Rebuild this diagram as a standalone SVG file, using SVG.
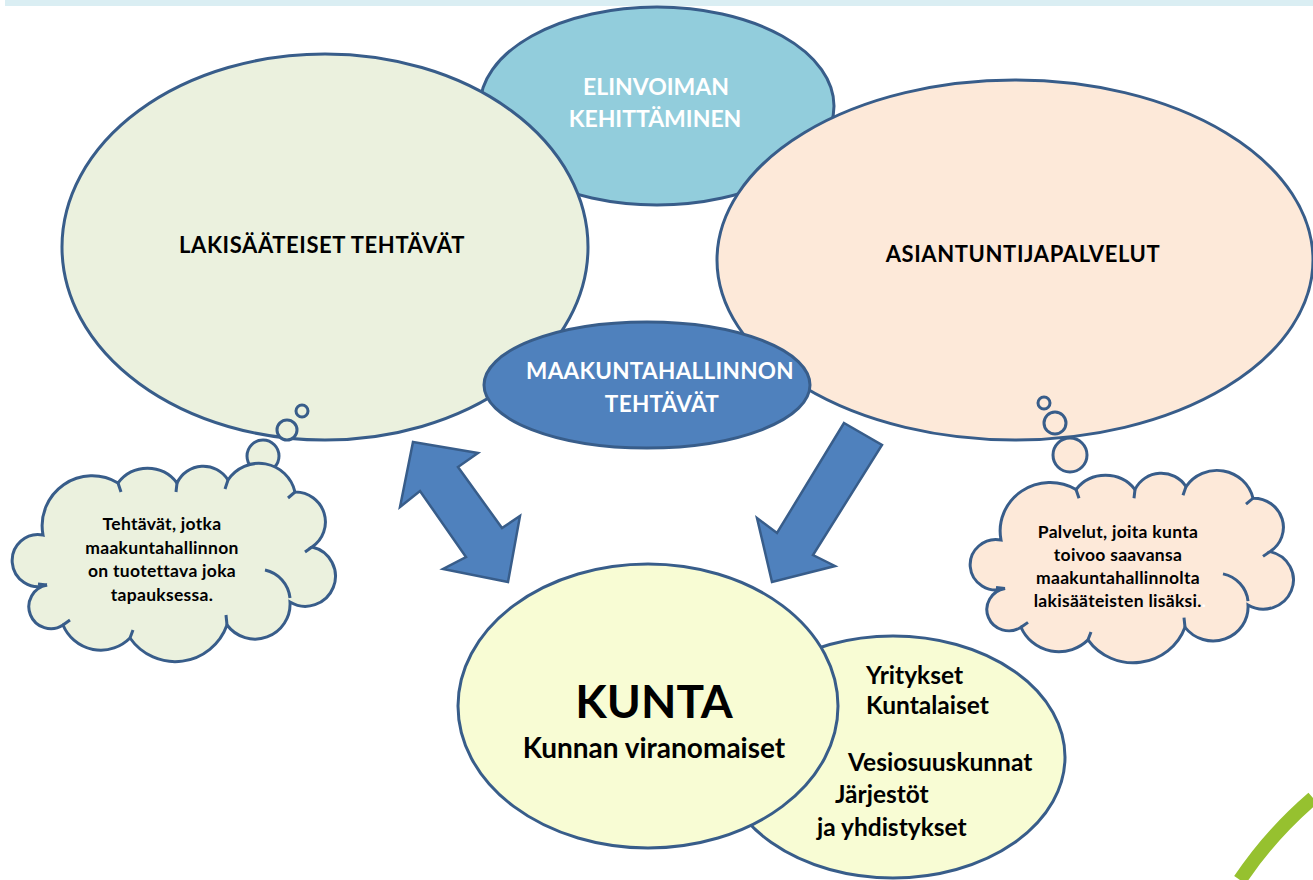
<svg xmlns="http://www.w3.org/2000/svg" xmlns:xlink="http://www.w3.org/1999/xlink" width="1313" height="880" viewBox="0 0 1313 880">
<style>
.sh{stroke:#385d8a;stroke-width:3}
.t{font-family:Lato,"Liberation Sans",sans-serif;font-weight:bold;text-anchor:middle}
.w{fill:#ffffff}
.k{fill:#000000}
.c{font-size:17.5px;letter-spacing:0.3px}
.l{font-family:Lato,"Liberation Sans",sans-serif;font-weight:bold;fill:#000;font-size:24.5px}
.tick{fill:none;stroke:#385d8a;stroke-width:3}
.arr{fill:#4f81bd;stroke:#385d8a;stroke-width:2.5;stroke-linejoin:miter}
</style>
<defs>
<path id="cloud" d="M47,585 A26,26 0 1 1 43,535 A50,50 0 0 1 118,483 A37,37 0 0 1 177,483 A29,29 0 0 1 228,480 A37,37 0 0 1 295,492 A30,30 0 0 1 312,547 A30,30 0 1 1 290,602 A35,35 0 0 1 227,625 A55,55 0 0 1 130,638 A41,41 0 0 1 63,625 A22,22 0 1 1 47,585 Z"/>
<path id="ticks" d="M118,483 L121,492 M177,483 L176,492 M228,480 L225,489 M295,492 L288,498 M312,547 L305,552 M265,570 A32,32 0 0 1 290,598 M227,625 L226,615 M130,638 L133,630 M63,625 L70,620 M47,585 L38,584"/>
</defs>
<rect x="5" y="0" width="1308" height="6" fill="#daeef3"/>
<path d="M1240,880 Q1270,835 1313,798" fill="none" stroke="#96c12f" stroke-width="14"/>

<g id="elinvoima">
<ellipse cx="657" cy="106" rx="177" ry="99" fill="#92cddc" class="sh"/>
<text class="t w" x="656" y="95" font-size="23">ELINVOIMAN</text>
<text class="t w" x="655" y="127" font-size="23">KEHITTÄMINEN</text>
</g>
<g id="lakisaateiset">
<ellipse cx="325" cy="247" rx="263" ry="193" fill="#ebf1de" class="sh"/>
<text class="t k" x="322" y="253" font-size="22" letter-spacing="0.6">LAKISÄÄTEISET TEHTÄVÄT</text>
</g>
<g id="asiantuntija">
<ellipse cx="1015" cy="260" rx="298" ry="180" fill="#fde9d9" class="sh"/>
<text class="t k" x="1023" y="262" font-size="22" letter-spacing="0.6">ASIANTUNTIJAPALVELUT</text>
</g>
<g id="maakunta">
<ellipse cx="647" cy="385" rx="163" ry="63" fill="#4f81bd" class="sh"/>
<text class="t w" x="660" y="379" font-size="22.5" letter-spacing="0.3">MAAKUNTAHALLINNON</text>
<text class="t w" x="662" y="412" font-size="22.5" letter-spacing="0.3">TEHTÄVÄT</text>
</g>

<g id="cloud-left">
<circle cx="302" cy="411" r="6" fill="#ebf1de" class="sh"/>
<circle cx="287" cy="430" r="10" fill="#ebf1de" class="sh"/>
<circle cx="263" cy="456" r="16" fill="#ebf1de" class="sh"/>
<use xlink:href="#cloud" href="#cloud" fill="#ebf1de" class="sh"/>
<use xlink:href="#ticks" href="#ticks" class="tick"/>
<text class="t k c" x="162" y="530">Tehtävät, jotka</text>
<text class="t k c" x="162" y="554">maakuntahallinnon</text>
<text class="t k c" x="162" y="577">on tuotettava joka</text>
<text class="t k c" x="162" y="601">tapauksessa.</text>
</g>

<g id="cloud-right">
<circle cx="1044" cy="403" r="6" fill="#fde9d9" class="sh"/>
<circle cx="1055" cy="423" r="11" fill="#fde9d9" class="sh"/>
<circle cx="1070" cy="455" r="17" fill="#fde9d9" class="sh"/>
<g transform="translate(958,21) scale(1,0.97)">
<use xlink:href="#cloud" href="#cloud" fill="#fde9d9" class="sh"/>
<use xlink:href="#ticks" href="#ticks" class="tick"/>
</g>
<text class="t k c" x="1118" y="538">Palvelut, joita kunta</text>
<text class="t k c" x="1118" y="561">toivoo saavansa</text>
<text class="t k c" x="1118" y="584">maakuntahallinnolta</text>
<text class="t k c" x="1120" y="607">lakisääteisten lisäksi.<tspan fill="#ffffff">.</tspan></text>
</g>

<g id="connectors">
<polygon class="arr" points="413,442 478,453 458,467 502,528 520,516 508,582 443,569 466,557 420,491 400,507"/>
<polygon class="arr" points="844,423 882,445 813,555 835,566 772,582 757,518 777,533"/>
</g>

<g id="muut">
<ellipse cx="893" cy="757" rx="172" ry="121" fill="#f8fcd4" class="sh"/>
<text class="l" x="866" y="684">Yritykset</text>
<text class="l" x="866" y="714">Kuntalaiset</text>
<text class="l" x="848" y="771">Vesiosuuskunnat</text>
<text class="l" x="835" y="803">Järjestöt</text>
<text class="l" x="817" y="836">ja yhdistykset</text>
</g>
<g id="kunta">
<ellipse cx="648" cy="706" rx="190" ry="142" fill="#f8fcd4" class="sh"/>
<text class="t k" x="654" y="718" font-size="46">KUNTA</text>
<text class="t k" x="654" y="758" font-size="28">Kunnan viranomaiset</text>
</g>
</svg>
